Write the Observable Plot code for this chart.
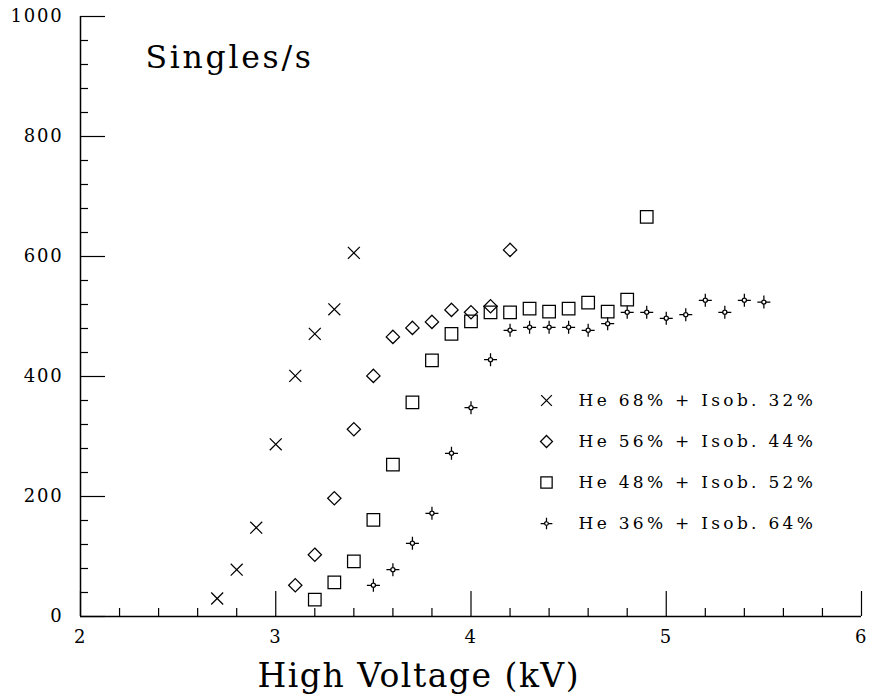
<!DOCTYPE html>
<html><head><meta charset="utf-8">
<script src="https://cdn.jsdelivr.net/npm/d3@7"></script>
<script src="https://cdn.jsdelivr.net/npm/@observablehq/plot@0.6"></script>
<style>
html,body{margin:0;padding:0;background:#fff;}
#wrap{position:relative;width:869px;height:694px;}
#legend{position:absolute;left:526px;top:380px;}
svg{font-family:"DejaVu Serif",serif;color:#000;overflow:visible;}
</style></head><body><div id="wrap"><div id="legend"></div></div>
<script>
// ---- data ----
const seriesLabels = ["He 68% + Isob. 32%", "He 56% + Isob. 44%", "He 48% + Isob. 52%", "He 36% + Isob. 64%"];

const hv1 = [2.7, 2.8, 2.9, 3.0, 3.1, 3.2, 3.3, 3.4];
const rate1 = [30, 78, 148, 287, 401, 471, 512, 606];

const hv2 = [3.1, 3.2, 3.3, 3.4, 3.5, 3.6, 3.7, 3.8, 3.9, 4.0, 4.1, 4.2];
const rate2 = [52, 103, 197, 312, 401, 466, 481, 491, 511, 507, 517, 611];

const hv3 = [3.2, 3.3, 3.4, 3.5, 3.6, 3.7, 3.8, 3.9, 4.0, 4.1, 4.2, 4.3, 4.4, 4.5, 4.6, 4.7, 4.8, 4.9];
const rate3 = [28, 57, 92, 161, 253, 357, 427, 471, 492, 507, 507, 513, 508, 513, 523, 508, 528, 666];

const hv4 = [3.5, 3.6, 3.7, 3.8, 3.9, 4.0, 4.1, 4.2, 4.3, 4.4, 4.5, 4.6, 4.7, 4.8, 4.9, 5.0, 5.1, 5.2, 5.3, 5.4, 5.5];
const rate4 = [52, 78, 122, 172, 272, 348, 428, 477, 482, 482, 482, 477, 488, 507, 507, 497, 503, 527, 507, 527, 524];

const xTickLabels = [2, 3, 4, 5, 6];
const yTickLabels = [0, 200, 400, 600, 800, 1000];
const xMinorTicks = [2.2, 2.4, 2.6, 2.8, 3.2, 3.4, 3.6, 3.8, 4.2, 4.4, 4.6, 4.8, 5.2, 5.4, 5.6, 5.8];
const yMinorTicks = [40, 80, 120, 160, 240, 280, 320, 360, 440, 480, 520, 560, 640, 680, 720, 760, 840, 880, 920, 960];

const yTitle = "Singles/s";
const xTitle = "High Voltage (kV)";

// ---- build ----
const toRows = (xs, ys) => xs.map((v, i) => ({v, r: ys[i]}));
const s1 = toRows(hv1, rate1), s2 = toRows(hv2, rate2), s3 = toRows(hv3, rate3), s4 = toRows(hv4, rate4);

// four-point star with hollow centre
const star = {
  draw(ctx, size) {
    const r = Math.sqrt(size / Math.PI);
    const r0 = r * 0.32;
    ctx.moveTo(0, -r); ctx.lineTo(0, -r0);
    ctx.moveTo(r, 0); ctx.lineTo(r0, 0);
    ctx.moveTo(0, r); ctx.lineTo(0, r0);
    ctx.moveTo(-r, 0); ctx.lineTo(-r0, 0);
    ctx.moveTo(r0, 0);
    ctx.arc(0, 0, r0, 0, 2 * Math.PI);
  }
};

const symbols = ["times", "diamond2", "square2", star];
const radii = [5.5, 6.0, 8.0, 6.5];

const W = 869, H = 694, mT = 16, mB = 78, mL = 80, mR = 8;
const plotH = H - mT - mB, plotW = W - mL - mR;
const ink = {stroke: "black", fill: "none", strokeWidth: 1.25};

const chart = Plot.plot({
  width: W, height: H,
  marginTop: mT, marginBottom: mB, marginLeft: mL, marginRight: mR,
  x: {domain: [2, 6], axis: null},
  y: {domain: [0, 1000], axis: null},
  style: {fontFamily: "DejaVu Serif", background: "white", color: "black", overflow: "visible"},
  marks: [
    // axis lines
    Plot.ruleY([0], {stroke: "black", strokeWidth: 1.5}),
    Plot.ruleX([2], {stroke: "black", strokeWidth: 1.5}),
    // ticks (inward)
    Plot.ruleX(xTickLabels, {x: d => d, insetTop: plotH - 25, stroke: "black", strokeWidth: 1.2}),
    Plot.ruleX(xMinorTicks, {x: d => d, insetTop: plotH - 8, stroke: "black", strokeWidth: 1.2}),
    Plot.ruleY(yTickLabels, {y: d => d, insetRight: plotW - 25, stroke: "black", strokeWidth: 1.2}),
    Plot.ruleY(yMinorTicks, {y: d => d, insetRight: plotW - 8, stroke: "black", strokeWidth: 1.2}),
    // tick labels
    Plot.axisX({ticks: xTickLabels, tickSize: 0, tickPadding: 14, fontSize: 18, label: null, tickFormat: d => String(d)}),
    Plot.axisY({ticks: yTickLabels, tickSize: 0, tickPadding: 17, fontSize: 18, label: null, tickFormat: d => String(d)}),
    // titles
    Plot.text([yTitle], {text: d => d, frameAnchor: "top-left", textAnchor: "start", lineAnchor: "top", dx: 65, dy: 29, fontSize: 31.5}),
    Plot.text([xTitle], {text: d => d, frameAnchor: "bottom-left", textAnchor: "start", lineAnchor: "top", dx: 177, dy: 47, fontSize: 33}),
    // data
    Plot.dot(s1, {x: "v", y: "r", symbol: symbols[0], r: radii[0], ...ink}),
    Plot.dot(s2, {x: "v", y: "r", symbol: symbols[1], r: radii[1], ...ink}),
    Plot.dot(s3, {x: "v", y: "r", symbol: symbols[2], r: radii[2], ...ink}),
    Plot.dot(s4, {x: "v", y: "r", symbol: symbols[3], r: radii[3], ...ink})
  ]
});
document.getElementById("wrap").prepend(chart);

const legend = Plot.plot({
  width: 320, height: 163,
  marginTop: 20, marginBottom: 20, marginLeft: 20, marginRight: 0,
  x: {axis: null},
  y: {type: "point", domain: seriesLabels, padding: 0, axis: null},
  style: {fontFamily: "DejaVu Serif", background: "transparent", color: "black", overflow: "visible"},
  marks: [
    ...seriesLabels.map((lab, i) => Plot.dot([lab], {y: d => d, frameAnchor: "left", symbol: symbols[i], r: radii[i] * 0.9, ...ink})),
    Plot.text(seriesLabels, {y: d => d, text: d => d, frameAnchor: "left", textAnchor: "start", dx: 32, fontSize: 17})
  ]
});
document.getElementById("legend").appendChild(legend);

// letter spacing to mimic the wide plotter lettering
const spacing = (root, fn) => root.querySelectorAll("text").forEach(t => {
  const ls = fn(t.textContent);
  if (ls != null) t.style.letterSpacing = ls + "px";
});
spacing(chart, s => s === yTitle ? 2.7 : s === xTitle ? 1.5 : /^\d+$/.test(s) ? 1.8 : null);
spacing(legend, s => seriesLabels.includes(s) ? 3.3 : null);
</script>
</body></html>
